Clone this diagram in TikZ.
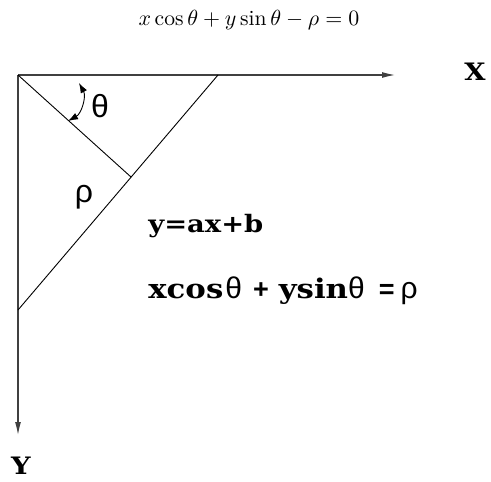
\documentclass[tikz,border=0pt]{standalone}
\usepackage{fontspec}
\usetikzlibrary{arrows.meta}
\newfontfamily\eqfont[FakeStretch=1.14]{DejaVu Serif}
\newfontfamily\grkfont{Liberation Sans}
\newcommand\grk[1]{{\grkfont\mdseries\fontsize{15}{17}\selectfont #1}}

\begin{document}
\begin{tikzpicture}[x=0.5pt, y=-0.5pt,
  axis/.style={draw=black!75, line width=0.6pt, -{Latex[length=6.5pt,width=3pt]}},
  seg/.style={line width=0.45pt},
  lbl/.style={inner sep=0pt, font=\fontsize{12}{14}\eqfont\bfseries},
  greek/.style={inner sep=0pt, font=\fontsize{16}{18}\grkfont}]
  \useasboundingbox (0,0) rectangle (491,481);

  \coordinate (orig) at (18,75);
  \coordinate (xend) at (395,75);
  \coordinate (yend) at (18,435);
  \coordinate (lineA) at (218,75);
  \coordinate (lineB) at (18,310);
  \coordinate (foot) at (131,177);
  \coordinate (arcS) at (68,121);
  \coordinate (arcE) at (79,83);

  \node (hough) [font=\fontsize{10.8}{13}\selectfont] at (249,20) {$x\cos\theta + y\sin\theta - \rho = 0$};
  \node (xlab) [lbl] at (475,72) {X};
  \node (ylab) [lbl] at (21,466) {Y};
  \node (theta) [greek] at (100,106) {θ};
  \node (rho) [greek] at (84,197) {ρ};
  \node (lineeq) [lbl, anchor=base west] at (148,232) {y=ax+b};
  \node (normeq) [lbl, font=\fontsize{13.5}{16}\eqfont\bfseries, anchor=base west] at (148,298)
    {xcos\hspace{1pt}\grk{θ}\hspace{5.5pt}{\grkfont +}\hspace{5pt}ysin\grk{θ}\hspace{7pt}{\grkfont =}\hspace{3pt}\grk{ρ}};

  \draw[axis] (orig) -- (xend);
  \draw[axis] (orig) -- (yend);
  \draw[seg] (lineA) -- (lineB);
  \draw[seg] (orig) -- (foot);
  \draw[seg, {Latex[length=5pt,width=3.5pt]}-{Latex[length=5pt,width=3.5pt]}] (arcS) to[bend right=45] (arcE);
\end{tikzpicture}
\end{document}
